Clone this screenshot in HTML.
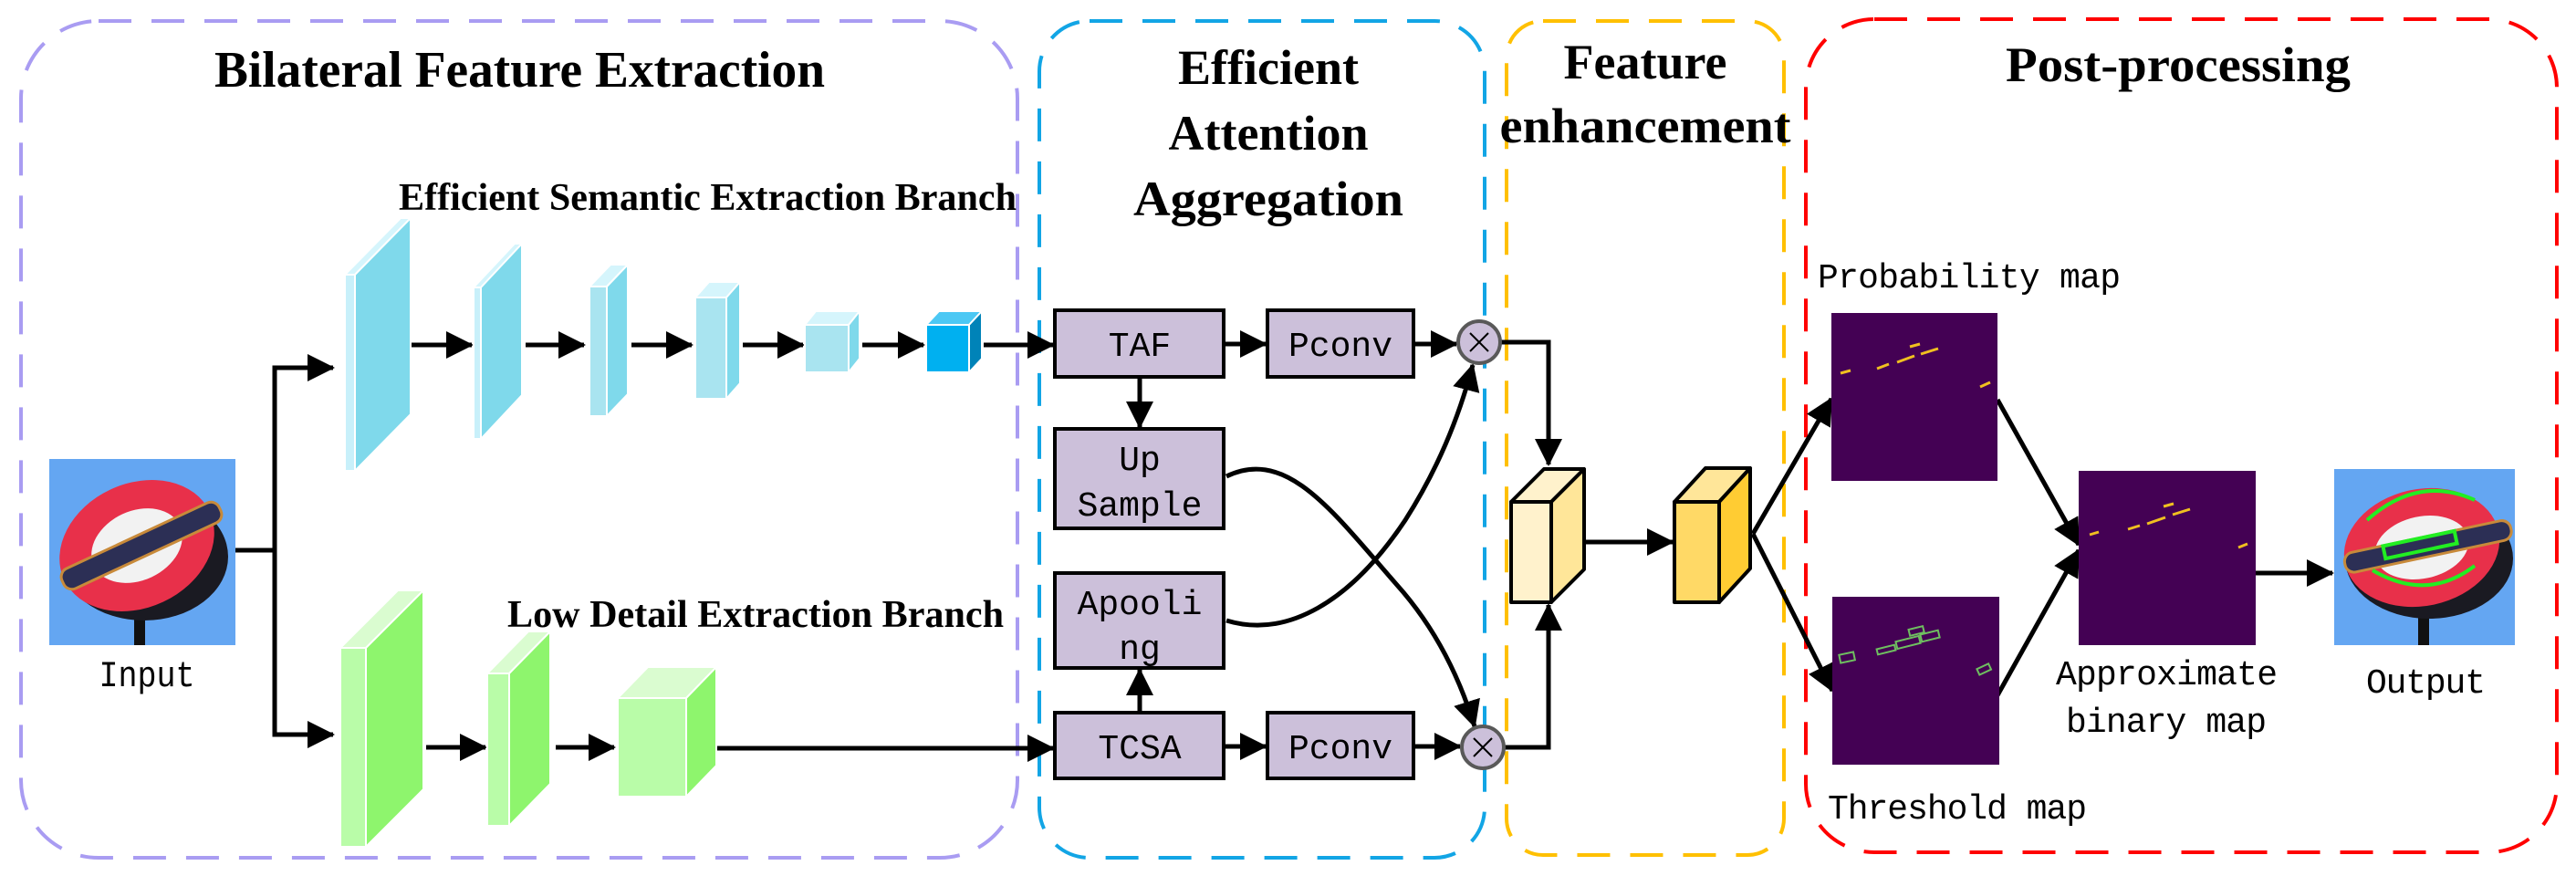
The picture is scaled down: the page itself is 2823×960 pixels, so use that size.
<!DOCTYPE html>
<html><head><meta charset="utf-8"><style>html,body{margin:0;padding:0;background:#fff}svg{display:block}</style></head>
<body>
<svg width="2823" height="960" viewBox="0 0 2823 960" xmlns="http://www.w3.org/2000/svg">
<defs>
<marker id="ah" markerUnits="userSpaceOnUse" markerWidth="32" markerHeight="30" refX="28" refY="15" orient="auto">
<path d="M0,0 L30,15 L0,30 z" fill="#000"/>
</marker>
</defs>
<rect width="2823" height="960" fill="#fff"/>
<!-- group boxes -->
<rect x="23" y="23" width="1092" height="917" rx="85" fill="none" stroke="#a99cf2" stroke-width="4" stroke-dasharray="36,22"/>
<rect x="1139" y="23" width="488" height="917" rx="55" fill="none" stroke="#12a5e5" stroke-width="4" stroke-dasharray="36,22"/>
<rect x="1651" y="23" width="304" height="914" rx="40" fill="none" stroke="#ffc000" stroke-width="4" stroke-dasharray="36,22"/>
<rect x="1979" y="21" width="823" height="913" rx="75" fill="none" stroke="#ff0000" stroke-width="4" stroke-dasharray="36,22"/>

<!-- titles -->
<g font-family="'Liberation Serif',serif" fill="#000">
<text x="235" y="95" font-size="56" font-weight="bold" textLength="669" lengthAdjust="spacingAndGlyphs">Bilateral Feature Extraction</text>
<text x="437" y="230" font-size="42" font-weight="bold" textLength="677" lengthAdjust="spacingAndGlyphs">Efficient Semantic Extraction Branch</text>
<text x="556" y="687" font-size="42" font-weight="bold" textLength="544" lengthAdjust="spacingAndGlyphs">Low Detail Extraction Branch</text>
<g font-size="54" font-weight="bold" text-anchor="middle">
<text x="1390" y="92">Efficient</text>
<text x="1390" y="164">Attention</text>
<text x="1390" y="236" textLength="296" lengthAdjust="spacingAndGlyphs">Aggregation</text>
<text x="1803" y="86">Feature</text>
<text x="1803" y="156" textLength="319" lengthAdjust="spacingAndGlyphs">enhancement</text>
<text x="2387" y="89" textLength="378" lengthAdjust="spacingAndGlyphs">Post-processing</text>
</g>
</g>

<!-- input image -->
<g>
<rect x="54" y="503" width="204" height="204" fill="#64a6f2"/>
<rect x="147" y="640" width="12" height="67" fill="#111"/>
<ellipse cx="158" cy="610" rx="92" ry="70" fill="#1a1a22"/>
<ellipse cx="150" cy="598" rx="88" ry="68" fill="#e8304a" transform="rotate(-25 150 598)"/>
<ellipse cx="150" cy="598" rx="52" ry="38" fill="#f2f2f2" transform="rotate(-25 150 598)"/>
<rect x="60" y="586" width="190" height="24" rx="10" fill="#2c2f55" stroke="#c88a3a" stroke-width="3" transform="rotate(-25 155 598)"/>
</g>
<text x="161" y="752" font-family="'Liberation Mono',monospace" font-size="40" text-anchor="middle" textLength="105" lengthAdjust="spacingAndGlyphs">Input</text>

<!-- branch connectors -->
<g stroke="#000" stroke-width="5" fill="none">
<polyline points="258,603 301,603 301,403 365,403" marker-end="url(#ah)"/>
<polyline points="301,603 301,805 365,805" marker-end="url(#ah)"/>
<line x1="450" y1="378" x2="517" y2="378" marker-end="url(#ah)"/>
<line x1="576" y1="378" x2="640" y2="378" marker-end="url(#ah)"/>
<line x1="692" y1="378" x2="758" y2="378" marker-end="url(#ah)"/>
<line x1="814" y1="378" x2="880" y2="378" marker-end="url(#ah)"/>
<line x1="945" y1="378" x2="1012" y2="378" marker-end="url(#ah)"/>
<line x1="1078" y1="378" x2="1154" y2="378" marker-end="url(#ah)"/>
<line x1="467" y1="819" x2="532" y2="819" marker-end="url(#ah)"/>
<line x1="609" y1="819" x2="673" y2="819" marker-end="url(#ah)"/>
<line x1="785" y1="820" x2="1154" y2="820" marker-end="url(#ah)"/>
</g>

<!-- blue layers -->
<g stroke="#fff" stroke-width="2">
<polygon points="378,301 389,301 450,239 439,239" fill="#d5f5fc"/>
<polygon points="389,301 450,239 450,454 389,516" fill="#7fd9eb"/>
<rect x="378" y="301" width="11" height="215" fill="#c8f0fa"/>

<polygon points="519,315 527,315 572,267 564,267" fill="#d5f5fc"/>
<polygon points="527,315 572,267 572,433 527,481" fill="#7fd9eb"/>
<rect x="519" y="315" width="8" height="166" fill="#c8f0fa"/>

<polygon points="646,314 665,314 688,290 669,290" fill="#d5f5fc"/>
<polygon points="665,314 688,290 688,432 665,456" fill="#7fd9eb"/>
<rect x="646" y="314" width="19" height="142" fill="#a9e4f0"/>

<polygon points="762,326 796,326 811,309 777,309" fill="#d5f5fc"/>
<polygon points="796,326 811,309 811,420 796,437" fill="#7fd9eb"/>
<rect x="762" y="326" width="34" height="111" fill="#a9e4f0"/>

<polygon points="882,356 930,356 942,341 894,341" fill="#d5f5fc"/>
<polygon points="930,356 942,341 942,393 930,408" fill="#7fd9eb"/>
<rect x="882" y="356" width="48" height="52" fill="#a9e4f0"/>

<polygon points="1015,356 1062,356 1076,341 1029,341" fill="#4cc8f4"/>
<polygon points="1062,356 1076,341 1076,393 1062,408" fill="#0083b8"/>
<rect x="1015" y="356" width="47" height="52" fill="#00b0f0"/>
</g>

<!-- green layers -->
<g stroke="#fff" stroke-width="2">
<polygon points="373,710 401,710 464,647 436,647" fill="#dafcd0"/>
<polygon points="401,710 464,647 464,865 401,928" fill="#8ef56d"/>
<rect x="373" y="710" width="28" height="218" fill="#b9fca8"/>

<polygon points="534,738 558,738 603,692 579,692" fill="#dafcd0"/>
<polygon points="558,738 603,692 603,859 558,905" fill="#8ef56d"/>
<rect x="534" y="738" width="24" height="167" fill="#b9fca8"/>

<polygon points="677,765 752,765 785,731 710,731" fill="#dafcd0"/>
<polygon points="752,765 785,731 785,839 752,873" fill="#8ef56d"/>
<rect x="677" y="765" width="75" height="108" fill="#b9fca8"/>
</g>

<!-- attention blocks -->
<g fill="#ccc0da" stroke="#000" stroke-width="4">
<rect x="1156" y="340" width="185" height="73"/>
<rect x="1389" y="340" width="160" height="73"/>
<rect x="1156" y="470" width="185" height="109"/>
<rect x="1156" y="628" width="185" height="104"/>
<rect x="1156" y="781" width="185" height="72"/>
<rect x="1389" y="781" width="160" height="72"/>
</g>
<g font-family="'Liberation Mono',monospace" font-size="38" text-anchor="middle" fill="#000">
<text x="1249" y="390">TAF</text>
<text x="1469" y="390">Pconv</text>
<text x="1249" y="515">Up</text>
<text x="1249" y="565">Sample</text>
<text x="1249" y="673">Apooli</text>
<text x="1249" y="722">ng</text>
<text x="1249" y="831">TCSA</text>
<text x="1469" y="831">Pconv</text>
</g>
<g stroke="#000" stroke-width="5" fill="none">
<line x1="1341" y1="377" x2="1387" y2="377" marker-end="url(#ah)"/>
<line x1="1549" y1="377" x2="1596" y2="377" marker-end="url(#ah)"/>
<line x1="1341" y1="818" x2="1387" y2="818" marker-end="url(#ah)"/>
<line x1="1549" y1="818" x2="1600" y2="818" marker-end="url(#ah)"/>
<line x1="1249" y1="413" x2="1249" y2="468" marker-end="url(#ah)"/>
<line x1="1249" y1="781" x2="1249" y2="734" marker-end="url(#ah)"/>
<path d="M1344,522 C1410,490 1460,560 1530,640 C1575,690 1600,745 1616,796" marker-end="url(#ah)"/>
<path d="M1344,680 C1410,700 1480,660 1540,570 C1575,515 1598,460 1614,400" marker-end="url(#ah)"/>
<polyline points="1644,375 1697,375 1697,509" marker-end="url(#ah)"/>
<polyline points="1648,819 1697,819 1697,663" marker-end="url(#ah)"/>
</g>
<g stroke="#595959" stroke-width="4" fill="#ccc0da">
<circle cx="1621" cy="375" r="23"/>
<circle cx="1625" cy="819" r="23"/>
</g>
<g stroke="#000" stroke-width="2">
<line x1="1611" y1="365" x2="1631" y2="385"/><line x1="1631" y1="365" x2="1611" y2="385"/>
<line x1="1615" y1="809" x2="1635" y2="829"/><line x1="1635" y1="809" x2="1615" y2="829"/>
</g>

<!-- cubes -->
<g stroke="#000" stroke-width="4" stroke-linejoin="round">
<polygon points="1656,550 1700,550 1736,514 1692,514" fill="#fff2cc"/>
<polygon points="1700,550 1736,514 1736,624 1700,660" fill="#ffe699"/>
<rect x="1656" y="550" width="44" height="110" fill="#fff2cc"/>
<polygon points="1835,550 1884,550 1918,513 1869,513" fill="#ffe699"/>
<polygon points="1884,550 1918,513 1918,623 1884,660" fill="#ffcc33"/>
<rect x="1835" y="550" width="49" height="110" fill="#ffd966"/>
</g>
<g stroke="#000" stroke-width="5" fill="none">
<line x1="1736" y1="594" x2="1833" y2="594" marker-end="url(#ah)"/>
<line x1="1921" y1="585" x2="2007" y2="437" marker-end="url(#ah)"/>
<line x1="1921" y1="585" x2="2008" y2="757" marker-end="url(#ah)"/>
<line x1="2189" y1="438" x2="2278" y2="597" marker-end="url(#ah)"/>
<line x1="2189" y1="762" x2="2278" y2="603" marker-end="url(#ah)"/>
<line x1="2465" y1="628" x2="2556" y2="628" marker-end="url(#ah)"/>
</g>

<!-- maps -->
<rect x="2007" y="343" width="182" height="184" fill="#440154"/>
<g stroke="#f0c020" stroke-width="3">
<line x1="2017" y1="409" x2="2028" y2="406"/>
<line x1="2057" y1="404" x2="2070" y2="399"/>
<line x1="2079" y1="397" x2="2098" y2="390"/>
<line x1="2105" y1="388" x2="2124" y2="382"/>
<line x1="2093" y1="380" x2="2104" y2="377"/>
<line x1="2170" y1="424" x2="2181" y2="419"/>
</g>
<rect x="2008" y="654" width="183" height="184" fill="#440154"/>
<g stroke="#6fbf60" stroke-width="2" fill="none">
<rect x="2016" y="716" width="16" height="9" transform="rotate(-12 2024 720)"/>
<rect x="2057" y="709" width="20" height="6" transform="rotate(-14 2067 712)"/>
<rect x="2078" y="700" width="26" height="8" transform="rotate(-14 2091 704)"/>
<rect x="2105" y="693" width="20" height="8" transform="rotate(-14 2115 697)"/>
<rect x="2092" y="688" width="16" height="7" transform="rotate(-14 2100 691)"/>
<rect x="2167" y="730" width="14" height="7" transform="rotate(-25 2174 733)"/>
</g>
<rect x="2278" y="516" width="194" height="191" fill="#440154"/>
<g stroke="#f0c020" stroke-width="3">
<line x1="2290" y1="586" x2="2300" y2="583"/>
<line x1="2332" y1="580" x2="2345" y2="576"/>
<line x1="2353" y1="574" x2="2373" y2="567"/>
<line x1="2381" y1="564" x2="2400" y2="558"/>
<line x1="2371" y1="555" x2="2382" y2="552"/>
<line x1="2453" y1="600" x2="2463" y2="596"/>
</g>
<g font-family="'Liberation Mono',monospace" font-size="38" fill="#000">
<text x="1992" y="315" textLength="332" lengthAdjust="spacing">Probability map</text>
<text x="2003" y="897" textLength="284" lengthAdjust="spacing">Threshold map</text>
<text x="2253" y="750" textLength="243" lengthAdjust="spacing">Approximate</text>
<text x="2264" y="802" textLength="220" lengthAdjust="spacing">binary map</text>
<text x="2593" y="759" textLength="131" lengthAdjust="spacing">Output</text>
</g>

<!-- output image -->
<g>
<rect x="2558" y="514" width="198" height="193" fill="#64a6f2"/>
<rect x="2650" y="650" width="12" height="57" fill="#111"/>
<ellipse cx="2662" cy="612" rx="92" ry="66" fill="#1a1a22"/>
<ellipse cx="2654" cy="600" rx="86" ry="64" fill="#e8304a" transform="rotate(-12 2654 600)"/>
<ellipse cx="2654" cy="600" rx="52" ry="34" fill="#f2f2f2" transform="rotate(-12 2654 600)"/>
<rect x="2568" y="588" width="186" height="22" rx="10" fill="#2c2f55" stroke="#c88a3a" stroke-width="3" transform="rotate(-12 2660 600)"/>
<g fill="none" stroke="#22ee22" stroke-width="4">
<path d="M2594,570 Q2650,520 2712,548" />
<path d="M2600,625 Q2660,660 2712,620" />
<rect x="2612" y="590" width="80" height="14" transform="rotate(-12 2652 597)"/>
</g>
</g>
</svg>
</body></html>
